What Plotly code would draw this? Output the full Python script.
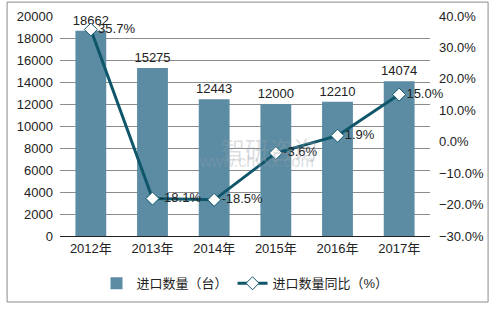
import plotly.graph_objects as go

years = ["2012年", "2013年", "2014年", "2015年", "2016年", "2017年"]
qty = [18662, 15275, 12443, 12000, 12210, 14074]
yoy = [35.7, -18.1, -18.5, -3.6, 1.9, 15.0]
bar_name = "进口数量（台）"
line_name = "进口数量同比（%）"

num_font = "Liberation Sans, Arial, sans-serif"
cjk_font = "Liberation Sans, Noto Sans CJK SC, sans-serif"

fig = go.Figure()
fig.add_trace(go.Bar(
    x=years, y=qty, name=bar_name,
    marker=dict(color="#5b8ca3", line=dict(width=0)),
    width=0.5,
    text=[str(v) for v in qty], textposition="outside",
    constraintext="none",
    textfont=dict(family=num_font, size=13, color="#222"),
    cliponaxis=False,
))
fig.add_trace(go.Scatter(
    x=years, y=yoy, name=line_name, yaxis="y2",
    mode="lines+markers+text",
    line=dict(color="#0f566b", width=3),
    marker=dict(symbol="diamond", size=10, color="white", line=dict(color="#0f566b", width=1)),
    text=[f"{v:.1f}%" for v in yoy], textposition="middle right",
    textfont=dict(family=num_font, size=13, color="#222"),
    cliponaxis=False,
))

fig.update_layout(
    width=492, height=310,
    margin=dict(l=60, r=62, t=16, b=74, autoexpand=False),
    paper_bgcolor="white", plot_bgcolor="white",
    font=dict(family=cjk_font, size=13, color="#222"),
    bargap=0.5,
    xaxis=dict(showline=True, linecolor="#222", linewidth=1, ticks="",
               tickfont=dict(family=cjk_font, size=13), showgrid=False,
               automargin=False),
    yaxis=dict(range=[0, 20000], dtick=2000, tickformat="d", showgrid=True,
               gridcolor="#8c8c8c", gridwidth=1, zeroline=False, showline=False,
               ticks="", tickfont=dict(family=num_font, size=13),
               ticklabelstandoff=6, automargin=False),
    yaxis2=dict(range=[-30, 40], dtick=10, overlaying="y", side="right",
                showgrid=False, zeroline=False, showline=False, ticks="",
                tickformat=".1f", ticksuffix="%",
                tickfont=dict(family=num_font, size=13), ticklabelstandoff=8,
                automargin=False),
    legend=dict(orientation="h", x=0.5, xanchor="center", y=-0.215, yanchor="middle",
                font=dict(family=cjk_font, size=13), itemwidth=30,
                traceorder="normal"),
    showlegend=True,
    shapes=[dict(type="rect", xref="paper", yref="paper",
                 x0=-0.143, x1=1.157, y0=-0.3, y1=1.063,
                 line=dict(color="#8a8a8a", width=1), layer="below")],
    annotations=[
        dict(text="智研咨询", xref="paper", yref="paper", x=0.565, y=0.4,
             showarrow=False, font=dict(family="Noto Sans CJK SC", size=24,
                                        color="rgba(150,160,170,0.35)")),
        dict(text="www.chyxx.com", xref="paper", yref="paper", x=0.53, y=0.29,
             showarrow=False, font=dict(family=num_font, size=16,
                                        color="rgba(150,160,170,0.35)")),
    ],
)

fig.write_html("out.html")
